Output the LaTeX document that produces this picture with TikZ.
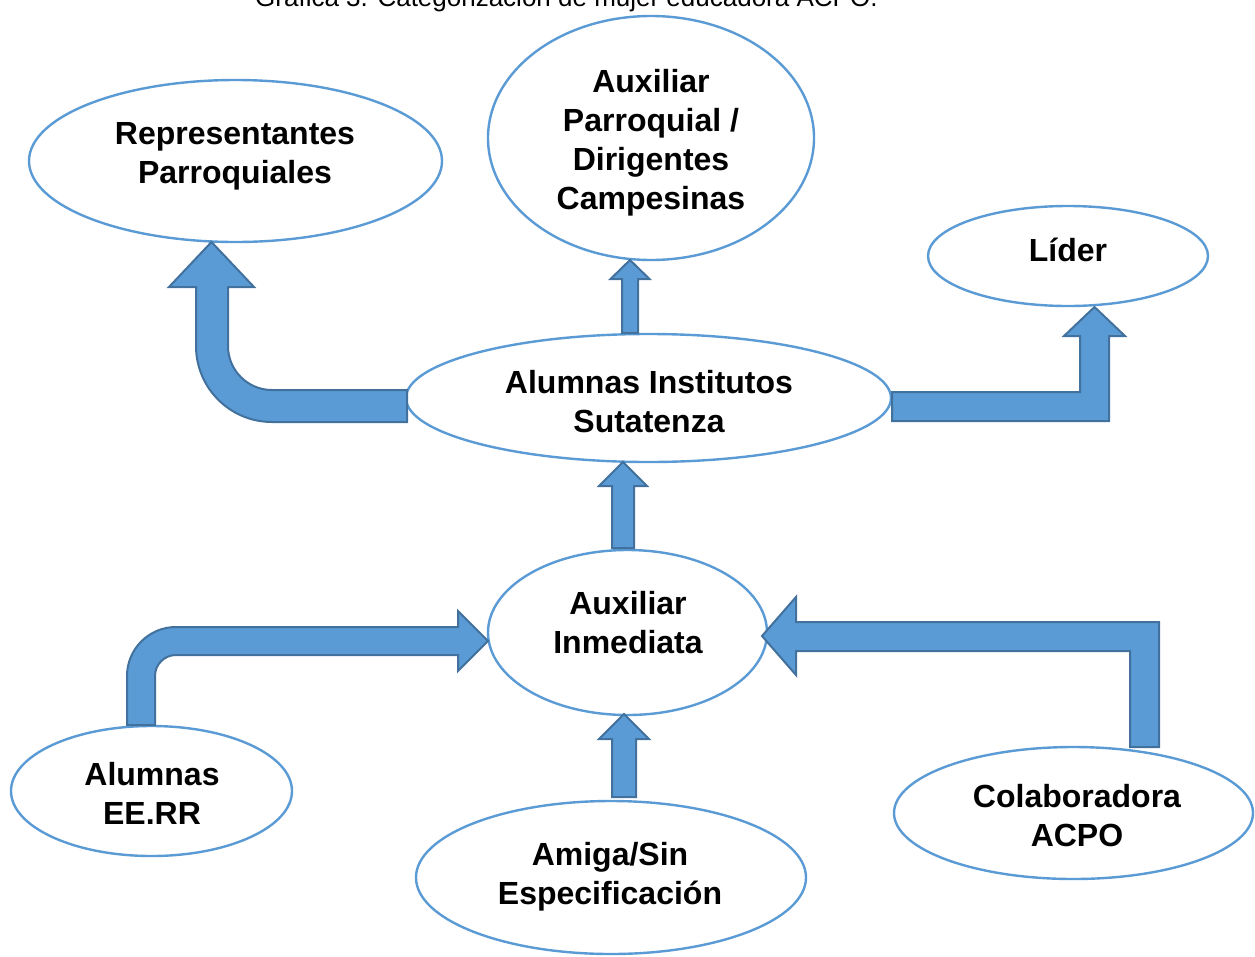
\documentclass[tikz,border=0pt]{standalone}
\usepackage{fontspec}
\setmainfont{Liberation Sans}
\usetikzlibrary{shapes.geometric}
\definecolor{ovalblue}{HTML}{5B9BD5}
\definecolor{arrfill}{HTML}{5B9BD5}
\definecolor{arrline}{HTML}{41719C}
\begin{document}
\begin{tikzpicture}[x=1pt,y=-1pt,
  oval/.style={draw=ovalblue, line width=2.4pt, ellipse, inner sep=0pt},
  lbl/.style={align=center, inner sep=0pt, font=\bfseries\fontsize{32}{39}\selectfont},
  blockarrow/.style={fill=arrfill, draw=arrline, line width=2pt, line join=miter}]
\useasboundingbox (0,0) rectangle (1255,956);
\fill[white] (0,0) rectangle (1255,956);

% title (cut off at the top, as in the reference)
\node[anchor=base west, inner sep=0pt, font=\fontsize{26}{30}\selectfont] (title) at (255,6) {Gráfica 3. Categorización de mujer educadora ACPO.};

% ellipses
\node[oval, minimum width=413pt, minimum height=162pt] (rep) at (235.5,161) {};
\node[oval, minimum width=326pt, minimum height=244pt] (aux) at (651,138) {};
\node[oval, minimum width=280pt, minimum height=100pt] (lid) at (1068,256) {};
\node[oval, minimum width=485pt, minimum height=128pt] (ais) at (648.5,398) {};
\node[oval, minimum width=279pt, minimum height=165pt] (inm) at (627.5,632.5) {};
\node[oval, minimum width=281pt, minimum height=130pt] (eer) at (151.5,791) {};
\node[oval, minimum width=390pt, minimum height=153pt] (ami) at (611,877.5) {};
\node[oval, minimum width=359pt, minimum height=132pt] (col) at (1073.5,813) {};

% texts
\node[lbl] (trep) at (235,156) {Representantes\\Parroquiales};
\node[lbl] (taux) at (651,143) {Auxiliar\\Parroquial /\\Dirigentes\\Campesinas};
\node[lbl] (tlid) at (1068,250) {Líder};
\node[lbl] (tais) at (649,402) {Alumnas Institutos\\Sutatenza};
\node[lbl] (tinm) at (628,623) {Auxiliar\\Inmediata};
\node[lbl] (teer) at (152,793) {Alumnas\\EE.RR};
\node[lbl] (tami) at (610,877) {Amiga/Sin\\Especificación};
\node[lbl] (tcol) at (1077,816) {Colaboradora\\ACPO};

% block arrows
% A: ais -> rep (bent, rounded)
\draw[blockarrow] (407,390) -- (272,390) arc[start angle=90, end angle=180, radius=44]
  -- (228,287) -- (254,287) -- (211.5,242) -- (169,287) -- (196,287) -- (196,346)
  arc[start angle=180, end angle=90, radius=76] -- (407,422) -- cycle;
% B: ais -> aux
\draw[blockarrow] (622,333) -- (622,279) -- (610.5,279) -- (630,260) -- (649.5,279) -- (638,279) -- (638,333) -- cycle;
% C: ais -> lid
\draw[blockarrow] (892,392) -- (1080,392) -- (1080,336) -- (1064,336) -- (1094.5,307) -- (1125,336) -- (1109,336) -- (1109,421) -- (892,421) -- cycle;
% D: inm -> ais
\draw[blockarrow] (612,548) -- (612,486) -- (599,486) -- (623,462) -- (647,486) -- (634,486) -- (634,548) -- cycle;
% E: eer -> inm
\draw[blockarrow] (127,725) -- (127,676) arc[start angle=180, end angle=270, radius=49]
  -- (458,627) -- (458,611) -- (488,641) -- (458,671) -- (458,655) -- (176,655)
  arc[start angle=270, end angle=180, radius=21] -- (155,725) -- cycle;
% F: ami -> inm
\draw[blockarrow] (612,797) -- (612,739) -- (599,739) -- (624,714) -- (649,739) -- (636,739) -- (636,797) -- cycle;
% G: col -> inm
\draw[blockarrow] (1130,747) -- (1130,651) -- (796,651) -- (796,675) -- (762,636) -- (796,597) -- (796,622) -- (1159,622) -- (1159,747) -- cycle;
\end{tikzpicture}
\end{document}
